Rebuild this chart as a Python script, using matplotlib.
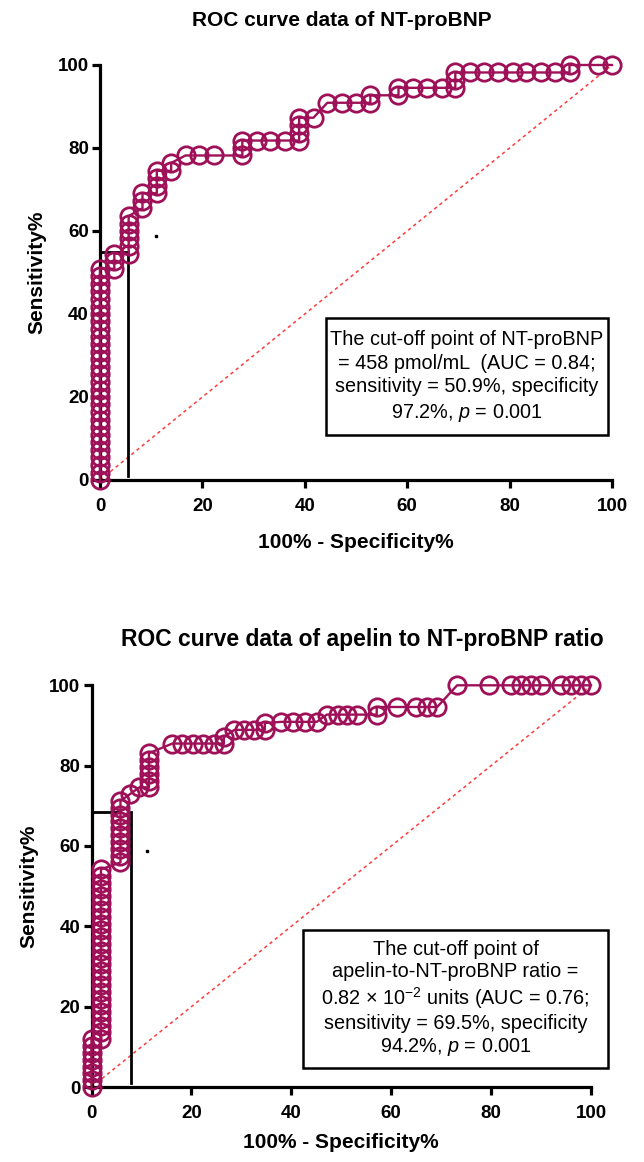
import matplotlib
matplotlib.use('Agg')
import matplotlib.pyplot as plt
from matplotlib.patches import Rectangle

plt.rcParams['font.family'] = ['Liberation Sans', 'DejaVu Sans']
plt.rcParams['mathtext.fontset'] = 'custom'
plt.rcParams['mathtext.rm'] = 'Liberation Sans'
plt.rcParams['mathtext.it'] = 'Liberation Sans:italic'

# ROC points, NT-proBNP (100% - specificity, sensitivity)
x_nt = [0, 0, 0, 0, 0, 0, 0, 0, 0, 0, 0, 0, 0, 0, 0, 0, 0, 0, 0, 0, 0, 0, 0, 0, 0, 0, 0, 0, 0,
        2.8, 2.8, 2.8,
        5.6, 5.6, 5.6, 5.6, 5.6, 5.6,
        8.3, 8.3, 8.3,
        11.1, 11.1, 11.1, 11.1,
        13.9, 13.9,
        16.7, 19.4, 22.2,
        27.8, 27.8, 27.8,
        30.6, 33.3, 36.1,
        38.9, 38.9, 38.9, 38.9,
        41.7,
        44.4, 47.2, 50.0,
        52.8, 52.8,
        58.3, 58.3,
        61.1, 63.9, 66.7,
        69.4, 69.4, 69.4,
        72.2, 75.0, 77.8, 80.6, 83.3, 86.1, 88.9,
        91.7, 91.7,
        97.2, 100]
y_nt = [0, 1.8, 3.6, 5.5, 7.3, 9.1, 10.9, 12.7, 14.5, 16.4, 18.2, 20.0, 21.8, 23.6, 25.5,
        27.3, 29.1, 30.9, 32.7, 34.5, 36.4, 38.2, 40.0, 41.8, 43.6, 45.5, 47.3, 49.1, 50.9,
        50.9, 52.7, 54.5,
        54.5, 56.4, 58.2, 60.0, 61.8, 63.6,
        65.5, 67.3, 69.1,
        69.1, 70.9, 72.7, 74.5,
        74.5, 76.4,
        78.2, 78.2, 78.2,
        78.2, 80.0, 81.8,
        81.8, 81.8, 81.8,
        81.8, 83.6, 85.5, 87.3,
        87.3,
        90.9, 90.9, 90.9,
        90.9, 92.7,
        92.7, 94.5,
        94.5, 94.5, 94.5,
        94.5, 96.4, 98.2,
        98.2, 98.2, 98.2, 98.2, 98.2, 98.2, 98.2,
        98.2, 100,
        100, 100]

# ROC points, apelin to NT-proBNP ratio
x_ratio = [0, 0, 0, 0, 0, 0, 0, 0,
           1.9, 1.9, 1.9, 1.9, 1.9, 1.9, 1.9, 1.9, 1.9, 1.9, 1.9, 1.9, 1.9, 1.9, 1.9, 1.9, 1.9,
           1.9, 1.9, 1.9, 1.9, 1.9, 1.9, 1.9, 1.9, 1.9,
           5.8, 5.8, 5.8, 5.8, 5.8, 5.8, 5.8, 5.8, 5.8, 5.8,
           7.7, 9.6,
           11.5, 11.5, 11.5, 11.5, 11.5, 11.5,
           16.2, 18.2, 20.4, 22.4, 24.5, 26.5, 26.5,
           28.6, 30.6, 32.6, 34.7, 34.7,
           38.0, 40.4, 42.7, 45.1, 47.1,
           49.4, 51.1, 53.1,
           57.1, 57.1,
           61.2, 64.9, 67.2, 69.2,
           73.2, 79.6, 84.0, 86.0, 88.0, 90.0, 94.0, 96.0, 98.0, 100]
y_ratio = [0, 1.7, 3.4, 5.1, 6.8, 8.5, 10.2, 11.9,
           11.9, 13.6, 15.3, 16.9, 18.6, 20.3, 22.0, 23.7, 25.4, 27.1, 28.8, 30.5, 32.2, 33.9,
           35.6, 37.3, 39.0, 40.7, 42.4, 44.1, 45.8, 47.5, 49.2, 50.8, 52.5, 54.2,
           55.9, 57.6, 59.3, 61.0, 62.7, 64.4, 66.1, 67.8, 69.5, 71.2,
           72.9, 74.6,
           74.6, 76.3, 78.0, 79.7, 81.4, 83.1,
           85.5, 85.5, 85.5, 85.5, 85.5, 85.5, 87.1,
           88.9, 88.9, 88.9, 88.9, 90.6,
           90.9, 90.9, 90.9, 90.9, 92.7,
           92.7, 92.7, 92.7,
           92.7, 94.6,
           94.6, 94.6, 94.6, 94.6,
           100, 100, 100, 100, 100, 100, 100, 100, 100, 100]

# cut-off guide lines: (x of vertical, y of horizontal, end of horizontal)
cut_nt = (5.5, 55.0, 5.5)
cut_ratio = (8.0, 68.5, 5.8)
dot_nt = (10.9, 58.9)
dot_ratio = (11.1, 58.8)

text_nt = ('The cut-off point of NT-proBNP\n'
           '= 458 pmol/mL  (AUC = 0.84;\n'
           'sensitivity = 50.9%, specificity\n'
           '97.2%, $\\mathit{p}$ = 0.001')
text_ratio = ('The cut-off point of\n'
              'apelin-to-NT-proBNP ratio =\n'
              '0.82 \u00d7 10$^{\u22122}$ units (AUC = 0.76;\n'
              'sensitivity = 69.5%, specificity\n'
              '94.2%, $\\mathit{p}$ = 0.001')

curve_color = '#9E1158'
W, H = 644, 1162

fig = plt.figure(figsize=(W / 100, H / 100), dpi=100)


def roc_panel(rect, xs, ys, cut, dot, title, note, box, title_pos, title_size, xpad, spacing):
    ax = fig.add_axes(rect)
    ax.plot([0, 100], [0, 100], color='#ff3b3b', lw=1.1, ls=(0, (2.2, 2.2)), zorder=1)
    ax.plot(xs, ys, color=curve_color, lw=1.7, marker='o', ms=12.5, mfc='none',
            mec=curve_color, mew=2.0, clip_on=False, zorder=3)
    ax.plot([0, cut[2]], [cut[1], cut[1]], color='black', lw=2.0, zorder=2)
    ax.plot([cut[0], cut[0]], [cut[1], 1], color='black', lw=2.0, zorder=2)
    ax.plot([dot[0]], [dot[1]], marker='s', ms=1.5, color='black')
    ax.set_xlim(0, 100)
    ax.set_ylim(0, 100)
    ax.set_xticks([0, 20, 40, 60, 80, 100])
    ax.set_yticks([0, 20, 40, 60, 80, 100])
    for s in ['top', 'right']:
        ax.spines[s].set_visible(False)
    for s in ['left', 'bottom']:
        ax.spines[s].set_linewidth(2.3)
    ax.tick_params(width=2.3, length=6, labelsize=13.5, pad=2)
    ax.tick_params(axis='x', pad=7)
    for lab in ax.get_xticklabels() + ax.get_yticklabels():
        lab.set_fontweight('bold')
    ax.set_xlabel('100% - Specificity%', fontsize=15, fontweight='bold', labelpad=xpad)
    ax.set_ylabel('Sensitivity%', fontsize=15, fontweight='bold', labelpad=8)
    x0, x1, y0, y1 = box
    ax.add_patch(Rectangle((x0, y0), x1 - x0, y1 - y0, fill=False, ec='black', lw=1.8,
                           clip_on=False, zorder=4))
    ax.text((x0 + x1) / 2, (y0 + y1) / 2, note, ha='center', va='center', fontsize=14.3,
            linespacing=spacing, zorder=5, clip_on=False)
    fig.text(title_pos[0], title_pos[1], title, ha='center', va='center',
             fontsize=title_size, fontweight='bold')
    return ax


roc_panel([100 / W, 1 - 480 / H, 512 / W, 415 / H], x_nt, y_nt, cut_nt, dot_nt,
          'ROC curve data of NT-proBNP', text_nt, (44.2, 99.2, 10.8, 39.0),
          (342 / W, 1 - 20 / H), 15, 13, 1.32)
roc_panel([91.5 / W, 1 - 1087 / H, 499.5 / W, 401.7 / H], x_ratio, y_ratio, cut_ratio, dot_ratio,
          'ROC curve data of apelin to NT-proBNP ratio', text_ratio, (42.3, 103.5, 4.7, 39.2),
          (362 / W, 1 - 640 / H), 16.5, 8, 1.2)

fig.savefig('out.png', dpi=100)
